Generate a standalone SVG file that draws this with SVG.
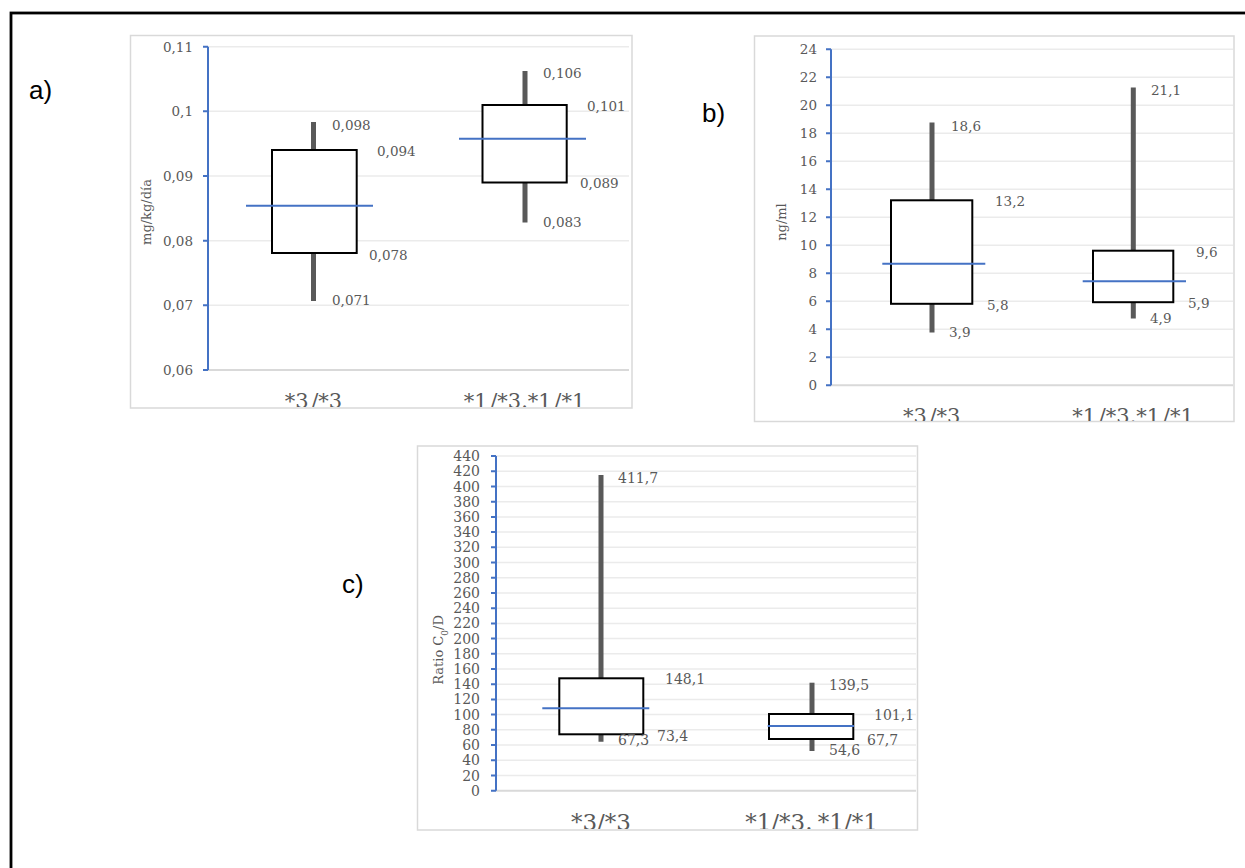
<svg xmlns="http://www.w3.org/2000/svg" width="1245" height="868" viewBox="0 0 1245 868">
<style>
.frame{fill:#fff;stroke:#D9D9D9;stroke-width:1.5}
.grid{stroke:#EBEBEB;stroke-width:1.5;fill:none}
.xaxis{stroke:#D9D9D9;stroke-width:2;fill:none}
.yaxis{stroke:#4472C4;stroke-width:2;fill:none}
.whisk{stroke:#595959;stroke-width:5;fill:none}
.box{fill:#fff;stroke:#000;stroke-width:2}
.med{stroke:#4472C4;stroke-width:2;fill:none}
.t{font-family:"DejaVu Serif","Liberation Serif",serif;fill:#595959}
.tk{font-size:13.5px;text-anchor:end}
.tkc{font-size:14px;text-anchor:end}
.val{font-size:13.5px}
.valc{font-size:14px}
.cat{font-size:21px;text-anchor:middle;word-spacing:-4px}
.catc{font-size:23px;text-anchor:middle;word-spacing:-2px}
.ttl{font-size:13px;text-anchor:middle}
.pl{font-family:"Liberation Sans",Arial,sans-serif;font-size:26px;fill:#000}
</style>
<defs>
<clipPath id="ca"><rect x="131" y="36" width="500" height="371"/></clipPath>
<clipPath id="cb"><rect x="755" y="37" width="478" height="384"/></clipPath>
<clipPath id="cc"><rect x="418" y="447" width="499" height="382"/></clipPath>
</defs>
<rect x="0" y="0" width="1245" height="868" fill="#fff"/>
<rect x="11" y="13" width="1250" height="870" fill="none" stroke="#000" stroke-width="2.8"/>

<g id="panel-a">
<rect class="frame" x="130.5" y="35.5" width="501.5" height="372.5"/>
<path class="grid" d="M208 46.7H629M208 111.3H629M208 176H629M208 240.7H629M208 305.3H629"/>
<path class="xaxis" d="M208 370H629"/>
<path class="yaxis" d="M208 46.7V370M203 46.7H208M203 111.3H208M203 176H208M203 240.7H208M203 305.3H208M203 370H208"/>
<g class="t tk">
<text x="193" y="51.7">0,11</text><text x="193" y="116.3">0,1</text><text x="193" y="181">0,09</text>
<text x="193" y="245.7">0,08</text><text x="193" y="310.3">0,07</text><text x="193" y="375">0,06</text>
</g>
<text class="t ttl" transform="translate(151,212) rotate(-90)">mg/kg/día</text>
<g id="a-box1">
<path class="whisk" d="M313.5 122V301"/>
<rect class="box" x="272" y="150" width="84.7" height="103"/>
<path class="med" d="M246 205.7H373"/>
</g>
<g id="a-box2">
<path class="whisk" d="M525 71V222.5"/>
<rect class="box" x="482.5" y="105" width="84.2" height="77.5"/>
<path class="med" d="M459 138.7H586"/>
</g>
<g class="t val">
<text x="332" y="130">0,098</text><text x="377" y="156">0,094</text>
<text x="369" y="260">0,078</text><text x="332" y="304.5">0,071</text>
<text x="543" y="77.5">0,106</text><text x="587" y="111">0,101</text>
<text x="580" y="188">0,089</text><text x="543" y="227">0,083</text>
</g>
<g clip-path="url(#ca)" class="t cat">
<text x="313.5" y="408">*3 /*3</text><text x="524.5" y="408">*1 /*3.*1 /*1</text>
</g>
</g>

<g id="panel-b">
<rect class="frame" x="754.5" y="36" width="479.5" height="385.5"/>
<path class="grid" d="M831 49.3H1233M831 77.3H1233M831 105.3H1233M831 133.3H1233M831 161.3H1233M831 189.3H1233M831 217.3H1233M831 245.3H1233M831 273.3H1233M831 301.3H1233M831 329.3H1233M831 357.3H1233"/>
<path class="xaxis" d="M831 385.3H1233"/>
<path class="yaxis" d="M831 49.3V385.3M826 49.3H831M826 77.3H831M826 105.3H831M826 133.3H831M826 161.3H831M826 189.3H831M826 217.3H831M826 245.3H831M826 273.3H831M826 301.3H831M826 329.3H831M826 357.3H831M826 385.3H831"/>
<g class="t tk">
<text x="817" y="54.3">24</text><text x="817" y="82.3">22</text><text x="817" y="110.3">20</text>
<text x="817" y="138.3">18</text><text x="817" y="166.3">16</text><text x="817" y="194.3">14</text>
<text x="817" y="222.3">12</text><text x="817" y="250.3">10</text><text x="817" y="278.3">8</text>
<text x="817" y="306.3">6</text><text x="817" y="334.3">4</text><text x="817" y="362.3">2</text>
<text x="817" y="390.3">0</text>
</g>
<text class="t ttl" transform="translate(786,222) rotate(-90)">ng/ml</text>
<g id="b-box1">
<path class="whisk" d="M932 122.5V332.5"/>
<rect class="box" x="891" y="200.3" width="81.3" height="103.5"/>
<path class="med" d="M882.3 263.7H985.3"/>
</g>
<g id="b-box2">
<path class="whisk" d="M1133.3 87.5V318.5"/>
<rect class="box" x="1093" y="250.7" width="80.3" height="51.5"/>
<path class="med" d="M1082.7 281.3H1186"/>
</g>
<g class="t val">
<text x="951" y="131">18,6</text><text x="995" y="206">13,2</text>
<text x="1151" y="95">21,1</text><text x="1196" y="257">9,6</text>
<text x="987" y="310">5,8</text><text x="949" y="337">3,9</text>
<text x="1150" y="323">4,9</text><text x="1188" y="307.5">5,9</text>
</g>
<g clip-path="url(#cb)" class="t cat">
<text x="931.7" y="423">*3 /*3</text><text x="1133" y="423">*1 /*3.*1 /*1</text>
</g>
</g>

<g id="panel-c">
<rect class="frame" x="417.5" y="446" width="500" height="384"/>
<path class="grid" d="M496 775.5H916M496 760.3H916M496 745.1H916M496 729.8H916M496 714.6H916M496 699.4H916M496 684.2H916M496 669H916M496 653.8H916M496 638.6H916M496 623.4H916M496 608.2H916M496 593H916M496 577.7H916M496 562.5H916M496 547.3H916M496 532.1H916M496 516.9H916M496 501.7H916M496 486.5H916M496 471.3H916M496 456H916"/>
<path class="xaxis" d="M496 790.7H916"/>
<path class="yaxis" d="M496 456V790.7M491 790.7H496M491 775.5H496M491 760.3H496M491 745.1H496M491 729.8H496M491 714.6H496M491 699.4H496M491 684.2H496M491 669H496M491 653.8H496M491 638.6H496M491 623.4H496M491 608.2H496M491 593H496M491 577.7H496M491 562.5H496M491 547.3H496M491 532.1H496M491 516.9H496M491 501.7H496M491 486.5H496M491 471.3H496M491 456H496"/>
<g class="t tkc">
<text x="480" y="795.7">0</text><text x="480" y="780.5">20</text><text x="480" y="765.3">40</text>
<text x="480" y="750.1">60</text><text x="480" y="734.8">80</text><text x="480" y="719.6">100</text>
<text x="480" y="704.4">120</text><text x="480" y="689.2">140</text><text x="480" y="674">160</text>
<text x="480" y="658.8">180</text><text x="480" y="643.6">200</text><text x="480" y="628.4">220</text>
<text x="480" y="613.2">240</text><text x="480" y="598">260</text><text x="480" y="582.7">280</text>
<text x="480" y="567.5">300</text><text x="480" y="552.3">320</text><text x="480" y="537.1">340</text>
<text x="480" y="521.9">360</text><text x="480" y="506.7">380</text><text x="480" y="491.5">400</text>
<text x="480" y="476.3">420</text><text x="480" y="461">440</text>
</g>
<text class="t ttl" transform="translate(443,650) rotate(-90)">Ratio C<tspan baseline-shift="sub" font-size="9">0</tspan>/D</text>
<g id="c-box1">
<path class="whisk" d="M601 475V741.7"/>
<rect class="box" x="559.3" y="678.3" width="84" height="56"/>
<path class="med" d="M542.3 708.3H649.3"/>
</g>
<g id="c-box2">
<path class="whisk" d="M812 682.7V751"/>
<rect class="box" x="769" y="714" width="84.3" height="25"/>
<path class="med" d="M767.7 726H854"/>
</g>
<g class="t valc">
<text x="618" y="483">411,7</text><text x="665" y="683.5">148,1</text>
<text x="657" y="741">73,4</text><text x="618" y="745">67,3</text>
<text x="829" y="690">139,5</text><text x="874" y="719.5">101,1</text>
<text x="867" y="745">67,7</text><text x="829" y="754.5">54,6</text>
</g>
<g clip-path="url(#cc)" class="t catc">
<text x="601" y="830">*3/*3</text><text x="811.5" y="830">*1/*3. *1/*1</text>
</g>
</g>

<g id="labels">
<text class="pl" x="29" y="99">a)</text>
<text class="pl" x="702" y="122">b)</text>
<text class="pl" x="342" y="593">c)</text>
</g>
</svg>
